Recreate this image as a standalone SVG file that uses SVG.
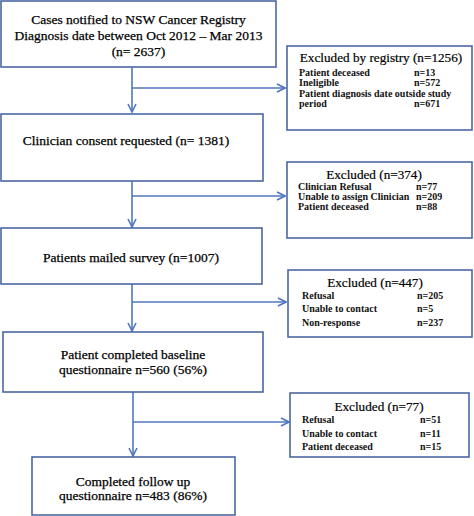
<svg xmlns="http://www.w3.org/2000/svg" width="474" height="516" viewBox="0 0 474 516">
<defs>
<style>
.box{fill:#fff;stroke:#4a67a3;stroke-width:1.6}
.main{font-family:"Liberation Serif",serif;font-size:13.5px;fill:#000;text-anchor:middle;stroke:#000;stroke-width:0.25}
.title{font-family:"Liberation Serif",serif;font-size:13.2px;fill:#000;text-anchor:middle;stroke:#000;stroke-width:0.2}
.item{font-family:"Liberation Serif",serif;font-size:10px;font-weight:bold;fill:#111}
.conn{fill:none;stroke:#4f77bf;stroke-width:1.6}
</style>
<marker id="ah" viewBox="0 0 10 10" refX="9" refY="5" markerWidth="10" markerHeight="10" markerUnits="userSpaceOnUse" orient="auto">
<path d="M1,1 L9,5 L1,9" fill="none" stroke="#4f77bf" stroke-width="1.6"/>
</marker>
</defs>
<rect width="474" height="516" fill="#fff"/>
<g id="connectors">
<line class="conn" x1="132" y1="67" x2="132" y2="112" marker-end="url(#ah)"/>
<line class="conn" x1="132" y1="88" x2="285" y2="88" marker-end="url(#ah)"/>
<line class="conn" x1="132" y1="181" x2="132" y2="227" marker-end="url(#ah)"/>
<line class="conn" x1="132" y1="196" x2="285" y2="196" marker-end="url(#ah)"/>
<line class="conn" x1="132" y1="284" x2="132" y2="331" marker-end="url(#ah)"/>
<line class="conn" x1="132" y1="302" x2="286" y2="302" marker-end="url(#ah)"/>
<line class="conn" x1="133" y1="392" x2="133" y2="456" marker-end="url(#ah)"/>
<line class="conn" x1="133" y1="422" x2="289" y2="422" marker-end="url(#ah)"/>
</g>
<g id="n1">
<rect class="box" x="1" y="1" width="275" height="66"/>
<text class="main" x="138.5" y="24">Cases notified to NSW Cancer Registry</text>
<text class="main" x="138.5" y="40">Diagnosis date between Oct 2012 – Mar 2013</text>
<text class="main" x="138.5" y="56">(n= 2637)</text>
</g>
<g id="x1">
<rect class="box" x="287" y="46" width="185" height="84"/>
<text class="title" x="381" y="62">Excluded by registry (n=1256)</text>
<text class="item" x="299" y="76">Patient deceased</text><text class="item" x="414" y="76">n=13</text>
<text class="item" x="299" y="86">Ineligible</text><text class="item" x="414" y="86">n=572</text>
<text class="item" x="299" y="97">Patient diagnosis date outside study</text>
<text class="item" x="299" y="107">period</text><text class="item" x="414" y="107">n=671</text>
</g>
<g id="n2">
<rect class="box" x="1" y="114" width="262" height="67"/>
<text class="main" x="126" y="145">Clinician consent requested (n= 1381)</text>
</g>
<g id="x2">
<rect class="box" x="287" y="162" width="185" height="76"/>
<text class="title" x="374" y="179">Excluded (n=374)</text>
<text class="item" x="298" y="190">Clinician Refusal</text><text class="item" x="416" y="190">n=77</text>
<text class="item" x="298" y="200">Unable to assign Clinician</text><text class="item" x="416" y="200">n=209</text>
<text class="item" x="298" y="210">Patient deceased</text><text class="item" x="416" y="210">n=88</text>
</g>
<g id="n3">
<rect class="box" x="1" y="228" width="261" height="56"/>
<text class="main" x="131" y="262">Patients mailed survey (n=1007)</text>
</g>
<g id="x3">
<rect class="box" x="288" y="270" width="184" height="67"/>
<text class="title" x="375" y="287">Excluded (n=447)</text>
<text class="item" x="302" y="299">Refusal</text><text class="item" x="417" y="299">n=205</text>
<text class="item" x="302" y="312">Unable to contact</text><text class="item" x="417" y="312">n=5</text>
<text class="item" x="302" y="326">Non-response</text><text class="item" x="417" y="326">n=237</text>
</g>
<g id="n4">
<rect class="box" x="3" y="332" width="260" height="60"/>
<text class="main" x="133" y="359">Patient completed baseline</text>
<text class="main" x="133" y="374">questionnaire n=560 (56%)</text>
</g>
<g id="x4">
<rect class="box" x="290" y="393" width="179" height="64"/>
<text class="title" x="379" y="411">Excluded (n=77)</text>
<text class="item" x="302" y="423">Refusal</text><text class="item" x="420" y="423">n=51</text>
<text class="item" x="302" y="437">Unable to contact</text><text class="item" x="420" y="437">n=11</text>
<text class="item" x="302" y="450">Patient deceased</text><text class="item" x="420" y="450">n=15</text>
</g>
<g id="n5">
<rect class="box" x="32" y="457" width="203" height="58"/>
<text class="main" x="133" y="486">Completed follow up</text>
<text class="main" x="133" y="500">questionnaire n=483 (86%)</text>
</g>
</svg>
